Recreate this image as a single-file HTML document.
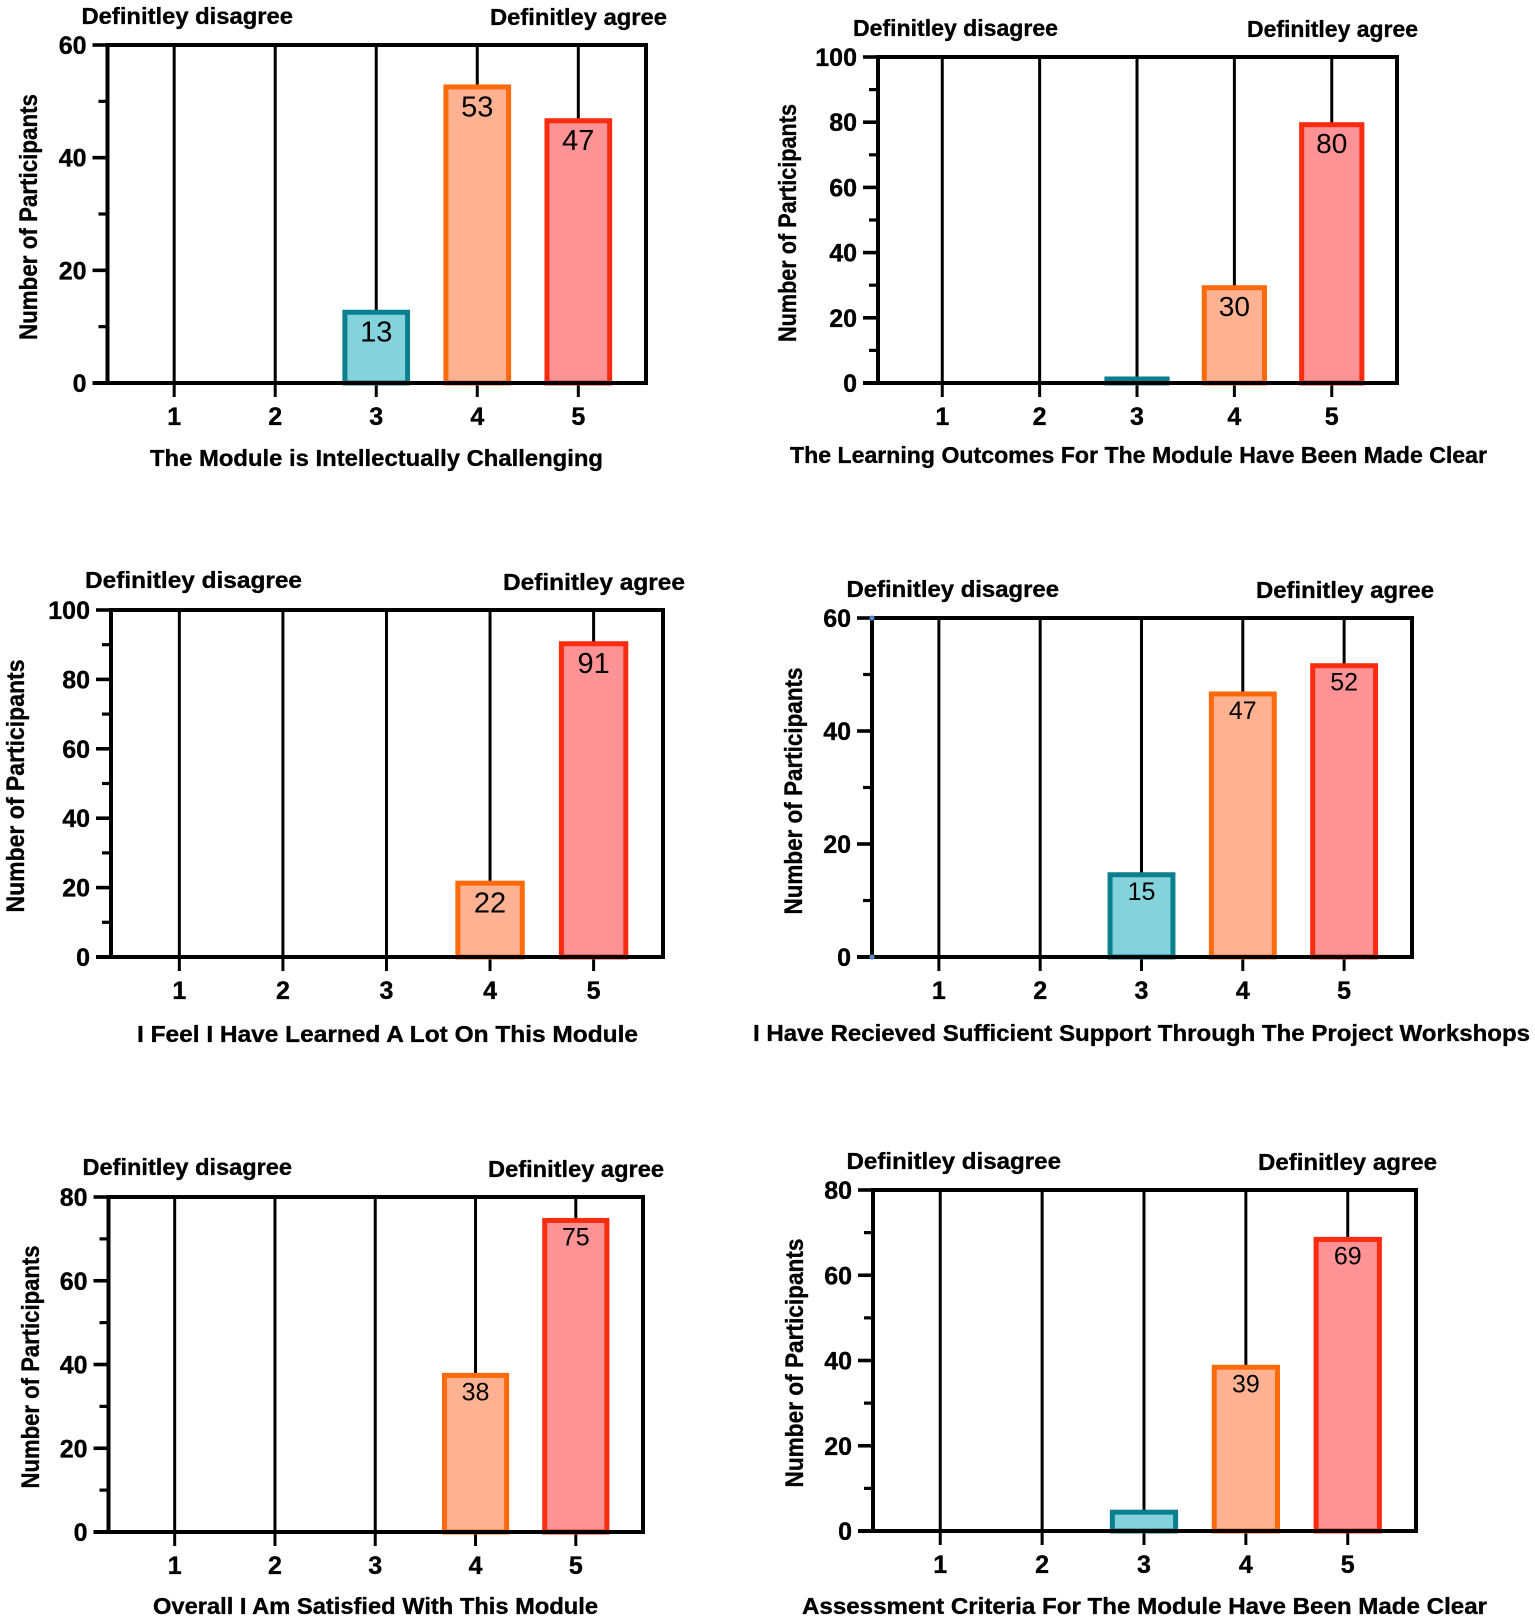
<!DOCTYPE html>
<html lang="en">
<head>
<meta charset="utf-8">
<title>Module survey responses</title>
<style>
html,body{margin:0;padding:0;background:#fff;}
body{width:1535px;height:1618px;overflow:hidden;}
svg{display:block;}
text{font-family:"Liberation Sans",Arial,sans-serif;fill:#000;}
text.heavy{stroke:#000;stroke-width:0.35px;}
</style>
</head>
<body>
<svg id="chart-root" xmlns="http://www.w3.org/2000/svg" width="1535" height="1618" viewBox="0 0 1535 1618"></svg>
<script>
const categories = [1, 2, 3, 4, 5];

const challengingValues = [0, 0, 13, 53, 47];
const outcomesValues = [0, 0, 2, 30, 80];
const learnedValues = [0, 0, 0, 22, 91];
const supportValues = [0, 0, 15, 47, 52];
const satisfiedValues = [0, 0, 0, 38, 75];
const criteriaValues = [0, 0, 5, 39, 69];

const challengingTicks = [0, 20, 40, 60];
const outcomesTicks = [0, 20, 40, 60, 80, 100];
const learnedTicks = [0, 20, 40, 60, 80, 100];
const supportTicks = [0, 20, 40, 60];
const satisfiedTicks = [0, 20, 40, 60, 80];
const criteriaTicks = [0, 20, 40, 60, 80];

const yAxisTitle = 'Number of Participants';
const lowAnchorLabel = 'Definitley disagree';
const highAnchorLabel = 'Definitley agree';

const panelLayouts = [
  {key:'module-challenging', title:'The Module is Intellectually Challenging', values:challengingValues, ticks:challengingTicks,
   l:107.5, r:646, t:45, b:383, fs:29,
   low:[81.5,293,24], high:[490,667,25], xt:[150,603,466], yt:[37,217,246]},
  {key:'learning-outcomes', title:'The Learning Outcomes For The Module Have Been Made Clear', values:outcomesValues, ticks:outcomesTicks,
   l:878, r:1397, t:57, b:383, fs:28,
   low:[853,1058,36], high:[1247,1418,37], xt:[790,1487,463], yt:[796,223,238]},
  {key:'learned-a-lot', title:'I Feel I Have Learned A Lot On This Module', values:learnedValues, ticks:learnedTicks,
   l:111, r:663, t:610, b:957, fs:29,
   low:[85,302,588], high:[503,685,590], xt:[137,638,1042], yt:[24,786,253]},
  {key:'workshop-support', title:'I Have Recieved Sufficient Support Through The Project Workshops', values:supportValues, ticks:supportTicks,
   l:872, r:1412, t:618, b:957, fs:25, dots:true,
   low:[846.5,1059,597], high:[1256,1434,598], xt:[753,1530,1041], yt:[802,791,247]},
  {key:'overall-satisfied', title:'Overall I Am Satisfied With This Module', values:satisfiedValues, ticks:satisfiedTicks,
   l:108.5, r:643, t:1197, b:1532, fs:25,
   low:[82.5,292,1175], high:[488,664,1177], xt:[153,598,1614], yt:[39,1367,243]},
  {key:'assessment-criteria', title:'Assessment Criteria For The Module Have Been Made Clear', values:criteriaValues, ticks:criteriaTicks,
   l:873, r:1416, t:1190, b:1531, fs:25,
   low:[846.5,1061,1169], high:[1258,1437,1170], xt:[802,1487,1614], yt:[803,1363,249]}
];

const barStyles = [
  {stroke:'#0a7f8e', fill:'#84d2dc'},
  {stroke:'#0a7f8e', fill:'#84d2dc'},
  {stroke:'#0a7f8e', fill:'#84d2dc'},
  {stroke:'#fd6a0c', fill:'#ffb291'},
  {stroke:'#fb2b10', fill:'#ff9295'}
];

const X_MIN = 0.34, X_MAX = 5.67;
const NS = 'http://www.w3.org/2000/svg';
const root = document.getElementById('chart-root');

function shape(parent, tag, attrs) {
  const el = document.createElementNS(NS, tag);
  Object.keys(attrs).forEach(function (k) { el.setAttribute(k, attrs[k]); });
  parent.appendChild(el);
  return el;
}

function fittedText(parent, str, x1, x2, y, size) {
  const el = shape(parent, 'text', {
    x: x1, y: y, 'font-size': size, 'font-weight': 'bold', class: 'heavy',
    textLength: x2 - x1, lengthAdjust: 'spacingAndGlyphs'
  });
  el.textContent = str;
  return el;
}

panelLayouts.forEach(function (p) {
  const xScale = function (c) { return p.l + (c - X_MIN) / (X_MAX - X_MIN) * (p.r - p.l); };
  const yMax = p.ticks[p.ticks.length - 1];
  const yScale = function (v) { return p.b - v / yMax * (p.b - p.t); };
  const step = xScale(2) - xScale(1);
  const barW = step * 0.67;
  const sw = 5;

  const g = shape(root, 'g', {});
  
  

  categories.forEach(function (c, i) {
    const v = p.values[i];
    const cx = xScale(c);
    const top = yScale(v);

    const stem = shape(g, 'line', {x1: cx, x2: cx, y1: p.t, y2: p.b + 14, stroke: '#000', 'stroke-width': 3});
    
    

    if (v > 0) {
      const bar = shape(g, 'rect', {
        x: cx - barW / 2 + sw / 2,
        y: top + sw / 2,
        width: barW - sw,
        height: Math.max(p.b - top - sw / 2, 0.5),
        fill: barStyles[i].fill,
        stroke: barStyles[i].stroke,
        'stroke-width': sw
      });
      
      

      if (p.b - top > p.fs * 1.2) {
        const val = shape(g, 'text', {x: cx, y: top + p.fs * 1.1, 'font-size': p.fs, 'text-anchor': 'middle'});
        val.textContent = String(v);
        
        
      }
    }

    const xLab = shape(g, 'text', {x: cx, y: p.b + 42, 'font-size': 25, 'font-weight': 'bold', 'text-anchor': 'middle', class: 'heavy'});
    xLab.textContent = String(c);
    
    
  });

  const frame = shape(g, 'path', {
    d: 'M' + p.l + ' ' + p.b + 'V' + p.t + 'H' + p.r + 'V' + (p.b + 2) + 'M' + (p.l - 15) + ' ' + p.b + 'H' + p.r,
    fill: 'none', stroke: '#000', 'stroke-width': 4
  });
  
  

  p.ticks.forEach(function (t, i) {
    const y = yScale(t);
    const major = shape(g, 'line', {x1: p.l - 15, x2: p.l, y1: y, y2: y, stroke: '#000', 'stroke-width': 3.6});
    
    

    const lab = shape(g, 'text', {x: p.l - 21, y: y + 9, 'font-size': 25, 'font-weight': 'bold', 'text-anchor': 'end', class: 'heavy'});
    lab.textContent = String(t);
    
    

    if (i < p.ticks.length - 1) {
      const my = yScale((t + p.ticks[i + 1]) / 2);
      const minor = shape(g, 'line', {x1: p.l - 9, x2: p.l, y1: my, y2: my, stroke: '#000', 'stroke-width': 3.2});
      
      
    }
  });

  if (p.dots) {
    [p.t, p.b].forEach(function (y) {
      const dot = shape(g, 'circle', {cx: p.l, cy: y, r: 2.6, fill: '#5f82c6'});
      
      
    });
  }

  const lowEl = fittedText(g, lowAnchorLabel, p.low[0], p.low[1], p.low[2], 23);
  
  

  const highEl = fittedText(g, highAnchorLabel, p.high[0], p.high[1], p.high[2], 23);
  
  

  const xTitleEl = fittedText(g, p.title, p.xt[0], p.xt[1], p.xt[2], 23);
  
  

  const yTitleEl = shape(g, 'text', {
    x: 0, y: 0, 'font-size': 25, 'font-weight': 'bold', 'text-anchor': 'middle', class: 'heavy',
    transform: 'translate(' + p.yt[0] + ' ' + p.yt[1] + ') rotate(-90)',
    textLength: p.yt[2], lengthAdjust: 'spacingAndGlyphs'
  });
  yTitleEl.textContent = yAxisTitle;
  
  
});
</script>
</body>
</html>
